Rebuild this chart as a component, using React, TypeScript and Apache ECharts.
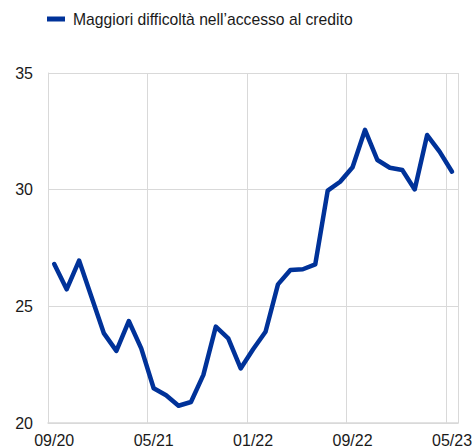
import React, { useEffect, useRef } from "react";
import * as echarts from "echarts";

const categories = [
  "09/20", "10/20", "11/20", "12/20",
  "01/21", "02/21", "03/21", "04/21", "05/21", "06/21", "07/21", "08/21", "09/21", "10/21", "11/21", "12/21",
  "01/22", "02/22", "03/22", "04/22", "05/22", "06/22", "07/22", "08/22", "09/22", "10/22", "11/22", "12/22",
  "01/23", "02/23", "03/23", "04/23", "05/23",
];

const seriesName = "Maggiori difficoltà nell’accesso al credito";

const values = [
  26.81, 25.73, 26.96, 25.4, 23.84, 23.09, 24.37, 23.2, 21.49, 21.19, 20.74, 20.9,
  22.06, 24.13, 23.63, 22.34, 23.16, 23.91, 25.94, 26.56, 26.59, 26.8,
  29.96, 30.34, 30.96, 32.56, 31.27, 30.94, 30.84, 30.01, 32.34, 31.63, 30.77,
];

const yTicks = { min: 20, max: 35, interval: 5 };

export default function App() {
  const ref = useRef<HTMLDivElement>(null);
  useEffect(() => {
    if (!ref.current) return;
    document.body.style.margin = "0";
    const chart = echarts.init(ref.current, null, { renderer: "svg" });
    const font = "Arial, 'Liberation Sans', sans-serif";
    chart.setOption({
      animation: false,
      textStyle: { fontFamily: font },
      legend: {
        left: 47,
        top: 11,
        padding: 0,
        itemWidth: 18,
        itemHeight: 5,
        itemGap: 8,
        icon: "rect",
        textStyle: { fontSize: 15.7, color: "#1a1a1a", fontFamily: font, padding: [0, 0, 0, 3] },
        data: [seriesName],
      },
      grid: { left: 48, right: 15, top: 73, bottom: 25, containLabel: false },
      xAxis: {
        type: "category",
        data: categories,
        boundaryGap: true,
        axisLine: { show: true, lineStyle: { color: "#d9d9d9", width: 1.5 } },
        axisTick: { show: false },
        axisLabel: { interval: 7, fontSize: 16, color: "#1a1a1a", margin: 9, fontFamily: font },
        splitLine: { show: true, interval: 7, lineStyle: { color: "#d9d9d9", width: 1 } },
      },
      yAxis: {
        type: "value",
        min: yTicks.min,
        max: yTicks.max,
        interval: yTicks.interval,
        axisLine: { show: true, lineStyle: { color: "#d9d9d9", width: 1 } },
        axisTick: { show: false },
        axisLabel: { fontSize: 16, color: "#1a1a1a", margin: 15, fontFamily: font },
        splitLine: { show: true, lineStyle: { color: "#d9d9d9", width: 1 } },
      },
      series: [
        {
          name: seriesName,
          type: "line",
          data: values,
          showSymbol: false,
          symbol: "none",
          lineStyle: { color: "#003299", width: 4.5, join: "round", cap: "round" },
          itemStyle: { color: "#003299" },
        },
      ],
    });
    return () => chart.dispose();
  }, []);
  return <div ref={ref} style={{ position: "absolute", left: 0, top: 0, width: 475, height: 448 }} />;
}
